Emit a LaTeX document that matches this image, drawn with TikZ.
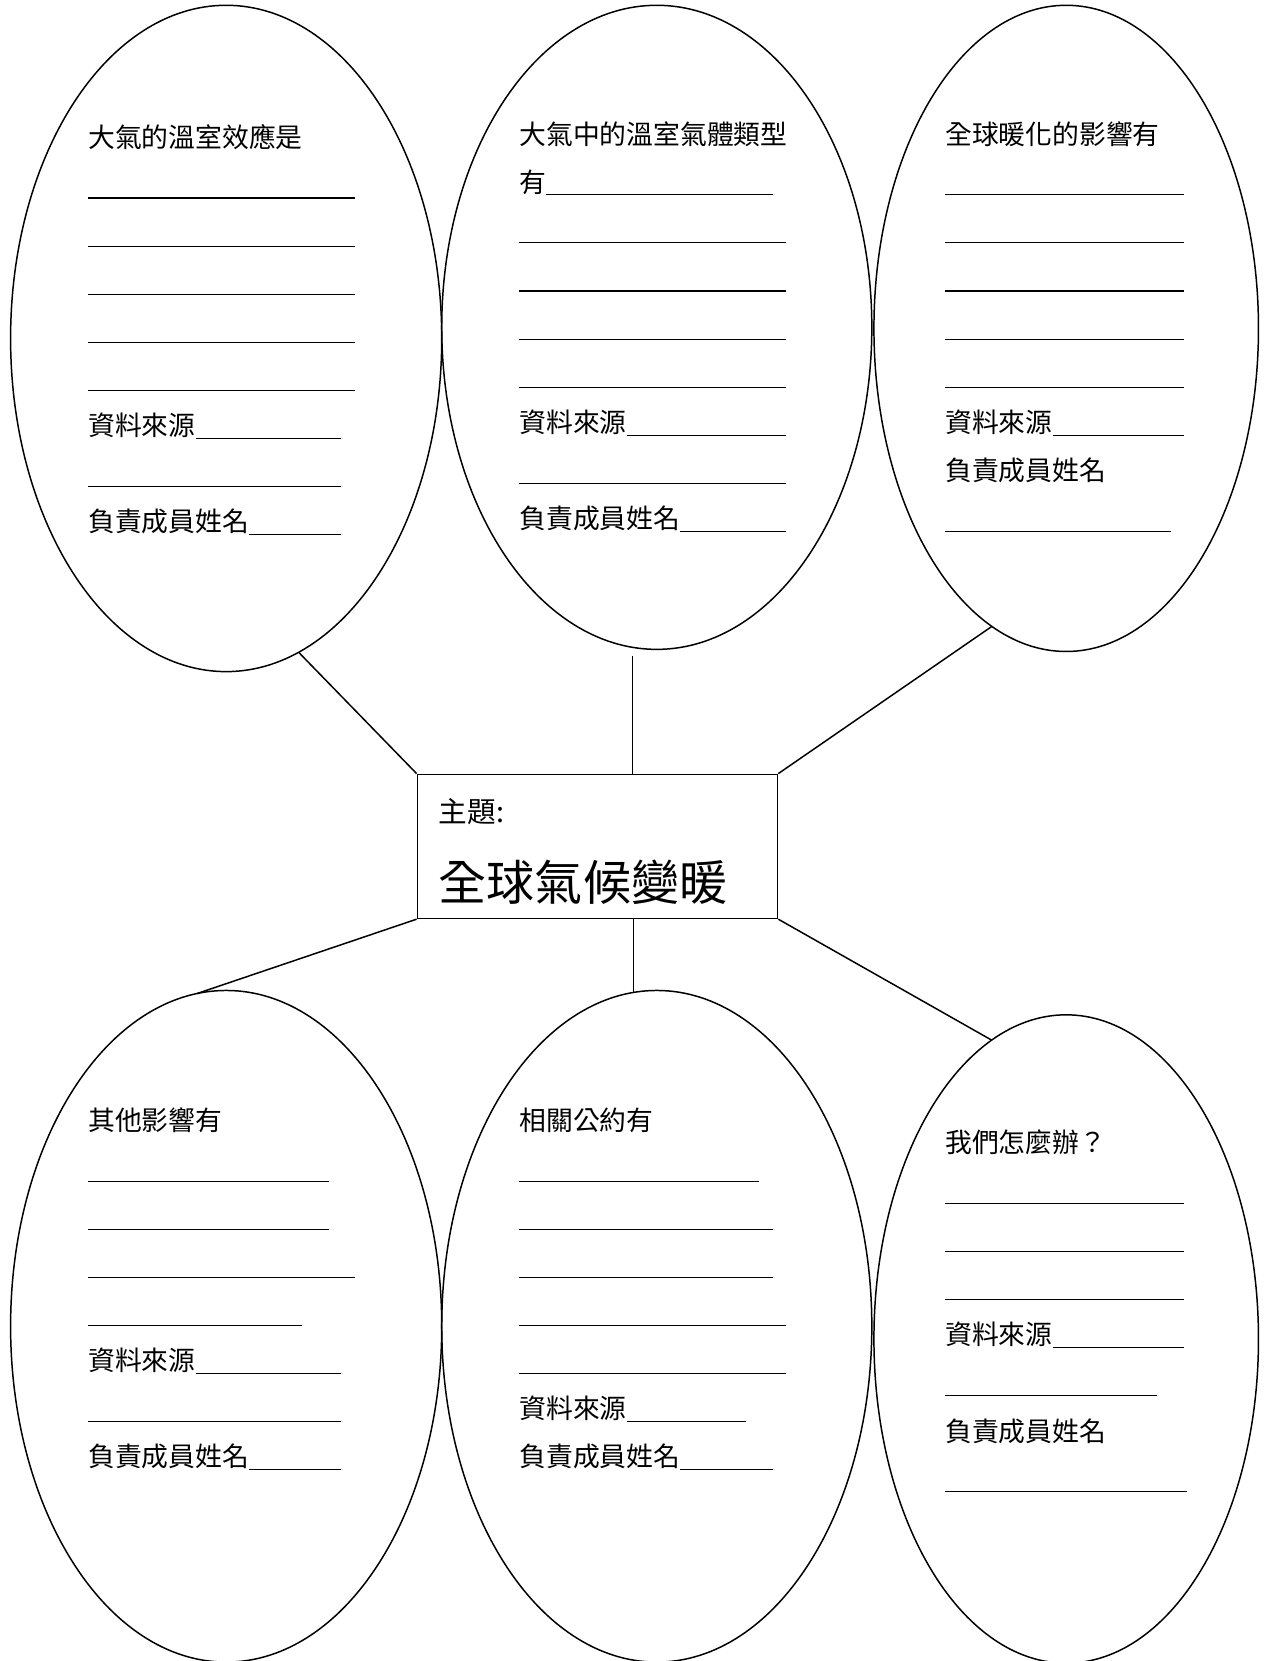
\documentclass[tikz,border=0pt]{standalone}
\usepackage{fontspec}
\usetikzlibrary{shapes.geometric}
\newfontfamily\cjk{Noto Sans CJK TC}
\newlength{\pxu}
\setlength{\pxu}{0.2mm}
\newcommand{\blankline}[2]{\makebox[#1\pxu][l]{#2\leaders\hrule height -0.4mm depth 0.6mm\hfill}}
\newcommand{\notes}[1]{\parbox[t]{62mm}{\fontsize{14.4pt}{9.08mm}\selectfont #1}}
\tikzset{
  bubble/.style={draw, ellipse, line width=0.8pt, inner sep=0pt, outer sep=0pt},
  lines/.style={anchor=base west, inner sep=0pt},
  link/.style={line width=0.8pt}
}
\begin{document}
\begin{tikzpicture}[x=0.2mm,y=-0.2mm,font=\cjk]
\useasboundingbox (0,0) rectangle (1195,1568);
%上排
\node[bubble, minimum width=81.4mm, minimum height=125.8mm] (e1) at (213.5,319.5) {};
\node[bubble, minimum width=81.2mm, minimum height=121.6mm] (e2) at (620,309) {};
\node[bubble, minimum width=72.6mm, minimum height=122mm] (e3) at (1006.5,310) {};
%中心
\node[draw, line width=0.8pt, minimum width=68mm, minimum height=27.2mm, inner sep=0pt] (box) at (564,799) {};
%下排
\node[bubble, minimum width=81.4mm, minimum height=126.8mm] (e4) at (213.5,1252) {};
\node[bubble, minimum width=81.2mm, minimum height=126.8mm] (e5) at (620,1252) {};
\node[bubble, minimum width=72.6mm, minimum height=122.4mm] (e6) at (1006.5,1264) {};

%文字
\node[lines] (t1) at (83,139) {\notes{大氣的溫室效應是\\
  \blankline{252}{}\\ \blankline{252}{}\\ \blankline{252}{}\\ \blankline{252}{}\\ \blankline{252}{}\\
  \blankline{239}{資料來源}\\ \blankline{239}{}\\ \blankline{239}{負責成員姓名}}};
\node[lines] (t2) at (490,136) {\notes{大氣中的溫室氣體類型\\
  \blankline{239}{有}\\
  \blankline{252}{}\\ \blankline{252}{}\\ \blankline{252}{}\\ \blankline{252}{}\\
  \blankline{252}{資料來源}\\ \blankline{252}{}\\ \blankline{252}{負責成員姓名}}};
\node[lines] (t3) at (892,136) {\notes{全球暖化的影響有\\
  \blankline{225}{}\\ \blankline{225}{}\\ \blankline{225}{}\\ \blankline{225}{}\\ \blankline{225}{}\\
  \blankline{225}{資料來源}\\ 負責成員姓名\\ \blankline{213}{}}};
\node[lines, font=\cjk\fontsize{15.4pt}{18pt}\selectfont] (topiclabel) at (414,776) {主題:};
\node[lines, font=\cjk\fontsize{25.8pt}{30pt}\selectfont] (topic) at (414,850) {全球氣候變暖};
\node[lines] (t4) at (83,1067) {\notes{其他影響有\\
  \blankline{227}{}\\ \blankline{227}{}\\ \blankline{252}{}\\ \blankline{202}{}\\
  \blankline{239}{資料來源}\\ \blankline{239}{}\\ \blankline{239}{負責成員姓名}}};
\node[lines] (t5) at (490,1067) {\notes{相關公約有\\
  \blankline{226}{}\\ \blankline{239}{}\\ \blankline{239}{}\\ \blankline{252}{}\\ \blankline{252}{}\\
  \blankline{214}{資料來源}\\ \blankline{239}{負責成員姓名}}};
\node[lines] (t6) at (892,1088) {\notes{我們怎麼辦？\\
  \blankline{225}{}\\ \blankline{225}{}\\ \blankline{225}{}\\
  \blankline{225}{資料來源}\\ \blankline{200}{}\\ 負責成員姓名\\ \blankline{228}{}}};

%連線
\coordinate (gap) at (597,619);
\draw[link] (e1.-77) -- (box.north west);
\draw[link] (gap) -- (gap |- box.north);
\draw[link] (e3.-104) -- (box.north east);
\draw[link] (box.south west) -- (e4.95);
\draw[link] (box.south -| e5.94) -- (e5.94);
\draw[link] (box.south east) -- (e6.104);
\end{tikzpicture}
\end{document}
